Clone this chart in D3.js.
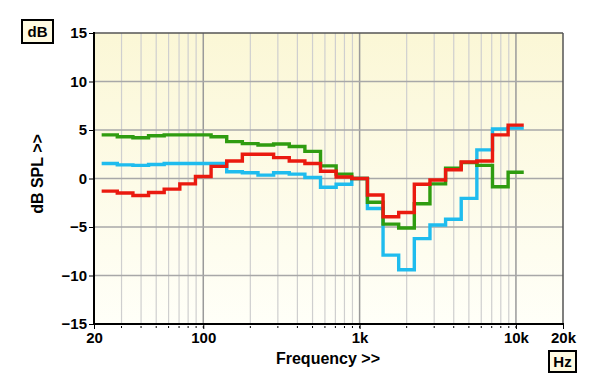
<!DOCTYPE html>
<html><head><meta charset="utf-8">
<script src="https://cdn.jsdelivr.net/npm/d3@7"></script>
<style>
body{margin:0;background:#fff;}
svg{display:block;font-family:"Liberation Sans",Arial,sans-serif;font-weight:bold;}
</style></head>
<body><svg id="c" width="600" height="387"></svg>
<script>
// 1/3-octave band centres (Hz)
const bands = [25,31.5,40,50,63,80,100,125,160,200,250,315,400,500,630,800,1000,1250,1600,2000,2500,3150,4000,5000,6300,8000,10000];
const blueSeries  = [1.55,1.4,1.35,1.45,1.55,1.55,1.55,1.55,0.7,0.6,0.35,0.6,0.45,0.1,-0.9,-0.6,0.0,-3.1,-7.9,-9.4,-6.2,-4.8,-4.2,-2.05,2.95,5.1,5.2];
const greenSeries = [4.5,4.3,4.2,4.4,4.5,4.5,4.5,4.3,3.8,3.6,3.45,3.55,3.3,2.8,1.3,0.45,0.0,-2.45,-4.7,-5.1,-2.6,-0.55,1.05,1.65,1.35,-0.85,0.65];
const redSeries   = [-1.3,-1.5,-1.75,-1.45,-1.1,-0.55,0.2,1.25,1.8,2.5,2.5,2.15,1.8,1.55,0.75,0.15,0.0,-1.7,-3.95,-3.5,-0.6,-0.15,0.9,1.7,1.8,4.5,5.5];
const yTicks = [-15,-10,-5,0,5,10,15];
const xTickVals = [20,100,1000,10000,20000];
const xTickLabels = ["20","100","1k","10k","20k"];

const svg = d3.select("#c");
const L=94,R=563,T=33,B=324;
const x = d3.scaleLog().domain([20,20000]).range([L,R]);
const y = d3.scaleLinear().domain([-15,15]).range([B,T]);

const defs = svg.append("defs");
const g = defs.append("linearGradient").attr("id","bg").attr("x1",0).attr("y1",0).attr("x2",0).attr("y2",1);
g.append("stop").attr("offset","0%").attr("stop-color","#fbf7d6");
g.append("stop").attr("offset","100%").attr("stop-color","#fffff8");
defs.append("clipPath").attr("id","clip").append("rect").attr("x",L).attr("y",T).attr("width",R-L).attr("height",B-T);

svg.append("rect").attr("x",L).attr("y",T).attr("width",R-L).attr("height",B-T).attr("fill","url(#bg)");

// vertical grid
const minor=[];
[10,100,1000,10000].forEach(d=>{for(let k=1;k<10;k++){const f=d*k; if(f>20&&f<20000) minor.push(f);}});
svg.append("g").selectAll("line").data(minor).join("line")
  .attr("x1",d=>x(d)).attr("x2",d=>x(d)).attr("y1",T).attr("y2",B)
  .attr("stroke",d=>[100,1000,10000].includes(d)?"#9a9a9a":"#cfcfcf").attr("stroke-width",d=>[100,1000,10000].includes(d)?1.5:1.2);
// horizontal grid
svg.append("g").selectAll("line").data(yTicks.filter(d=>d>-15&&d<15)).join("line")
  .attr("x1",L).attr("x2",R).attr("y1",d=>y(d)).attr("y2",d=>y(d))
  .attr("stroke","#a8a8a8").attr("stroke-width",1.5);

// step curves
function edges(fc){const n=Math.round(10*Math.log10(fc));return [Math.pow(10,(n-0.5)/10),Math.pow(10,(n+0.5)/10)];}
function pts(vals){const p=[];vals.forEach((v,i)=>{const e=edges(bands[i]);p.push([e[0],v]);p.push([e[1],v]);});return p;}
const line = d3.line().x(d=>x(d[0])).y(d=>y(d[1]));
const curves = svg.append("g").attr("clip-path","url(#clip)");
[[blueSeries,"#1fbcee"],[greenSeries,"#2f9c10"],[redSeries,"#ea1a0f"]].forEach(([v,c])=>{
  curves.append("path").attr("d",line(pts(v))).attr("fill","none").attr("stroke",c).attr("stroke-width",3.4).attr("stroke-linejoin","miter");
});

// frame
svg.append("line").attr("x1",L).attr("x2",R).attr("y1",T).attr("y2",T).attr("stroke","#555").attr("stroke-width",1.5);
svg.append("line").attr("x1",R).attr("x2",R).attr("y1",T).attr("y2",B).attr("stroke","#555").attr("stroke-width",1.5);
svg.append("line").attr("x1",L).attr("x2",L).attr("y1",T-1).attr("y2",B+1).attr("stroke","#000").attr("stroke-width",2);
svg.append("line").attr("x1",L-1).attr("x2",R+1).attr("y1",B).attr("y2",B).attr("stroke","#000").attr("stroke-width",2);

// y axis
const ya = d3.axisLeft(y).tickValues(yTicks).tickSize(5).tickPadding(2).tickFormat(d3.format("d"));
const yg = svg.append("g").attr("transform",`translate(${L},0)`).call(ya);
yg.select(".domain").remove();
yg.selectAll("text").attr("font-size",15).attr("font-weight","bold").attr("fill","#000").attr("font-family","Liberation Sans,Arial,sans-serif");
yg.selectAll("line").attr("stroke","#000");

// x axis
const xa = d3.axisBottom(x).tickValues(xTickVals).tickSize(5).tickPadding(3).tickFormat((d,i)=>xTickLabels[i]);
const xg = svg.append("g").attr("transform",`translate(0,${B})`).call(xa);
xg.select(".domain").remove();
xg.selectAll("text").attr("font-size",15).attr("font-weight","bold").attr("fill","#000").attr("font-family","Liberation Sans,Arial,sans-serif");
xg.selectAll("line").attr("stroke","#000");
svg.append("g").selectAll("line").data(minor).join("line")
  .attr("x1",d=>x(d)).attr("x2",d=>x(d)).attr("y1",B+2).attr("y2",B+4).attr("stroke","#000").attr("stroke-width",1);

// titles
svg.append("text").attr("x",328).attr("y",364).attr("text-anchor","middle").attr("font-size",16).text("Frequency >>");
svg.append("text").attr("transform","translate(43,174) rotate(-90)").attr("text-anchor","middle").attr("font-size",16).text("dB SPL >>");

// unit boxes
svg.append("rect").attr("x",22).attr("y",20).attr("width",31).attr("height",23).attr("fill","#fffbe2").attr("stroke","#000").attr("stroke-width",2);
svg.append("text").attr("x",37.5).attr("y",37).attr("text-anchor","middle").attr("font-size",15).text("dB");
svg.append("rect").attr("x",549).attr("y",351).attr("width",27).attr("height",21).attr("fill","#fffbe2").attr("stroke","#000").attr("stroke-width",2);
svg.append("text").attr("x",562.5).attr("y",367).attr("text-anchor","middle").attr("font-size",15).text("Hz");
</script></body></html>
